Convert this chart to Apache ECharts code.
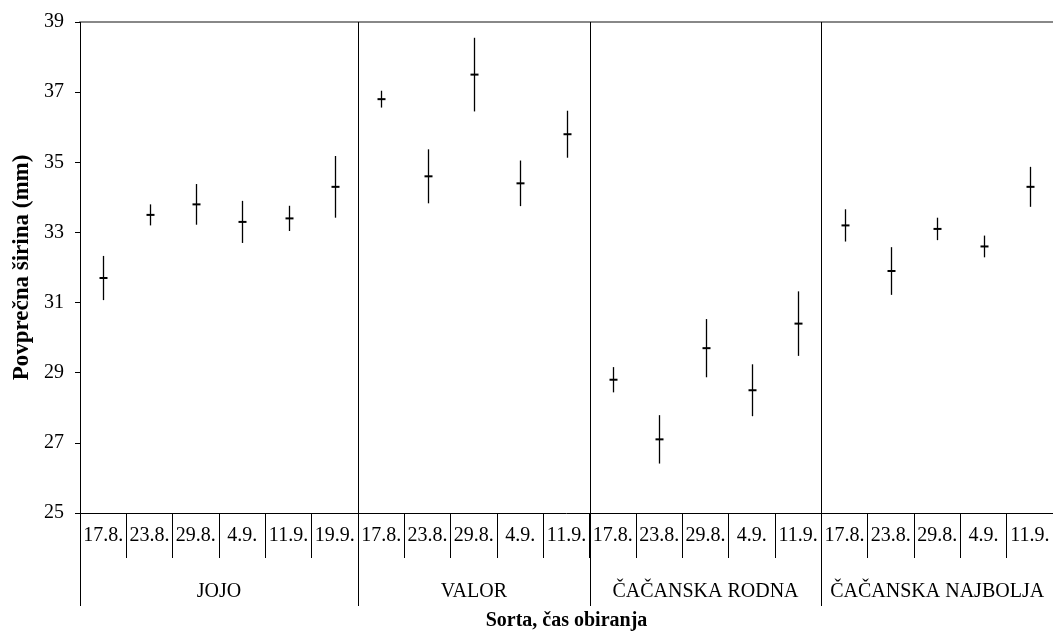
<!DOCTYPE html>
<html><head><meta charset="utf-8">
<script src="https://cdn.jsdelivr.net/npm/echarts@6/dist/echarts.min.js"></script>
<style>html,body{margin:0;padding:0;background:#fff}#c{width:1053px;height:636px}</style>
</head><body><div id="c"></div>
<script>
const dates = ['17.8.','23.8.','29.8.','4.9.','11.9.','19.9.',
               '17.8.','23.8.','29.8.','4.9.','11.9.',
               '17.8.','23.8.','29.8.','4.9.','11.9.',
               '17.8.','23.8.','29.8.','4.9.','11.9.'];
const groups = ['JOJO','VALOR','ČAČANSKA RODNA','ČAČANSKA NAJBOLJA'];
const groupSizes = [6,5,5,5];
const meanJojo = [31.7, 33.5, 33.8, 33.3, 33.4, 34.3];
const errJojo  = [0.63, 0.30, 0.58, 0.60, 0.36, 0.88];
const meanValor = [36.8, 34.6, 37.5, 34.4, 35.8];
const errValor  = [0.24, 0.77, 1.05, 0.65, 0.67];
const meanRodna = [28.8, 27.1, 29.7, 28.5, 30.4];
const errRodna  = [0.36, 0.69, 0.83, 0.74, 0.92];
const meanNajb = [33.2, 31.9, 33.1, 32.6, 34.3];
const errNajb  = [0.46, 0.68, 0.32, 0.31, 0.57];
const yTicks = {min:25, max:39, interval:2};

const means = meanJojo.concat(meanValor, meanRodna, meanNajb);
const errs = errJojo.concat(errValor, errRodna, errNajb);
const errData = means.map((m,i)=>[i, m, errs[i]]);
let acc = 0;
const groupData = groupSizes.map(n=>{const d=[acc, yTicks.min, n]; acc+=n; return d;});

const FONT = '"Liberation Serif","Times New Roman",serif';
const chart = echarts.init(document.getElementById('c'));
chart.setOption({
  animation:false,
  backgroundColor:'#fff',
  grid:{left:80, top:22, width:975.5, height:496, containLabel:false},
  xAxis:[{
    type:'category', data:dates, position:'bottom', boundaryGap:true,
    axisLine:{lineStyle:{color:'#000', width:1}},
    axisTick:{show:true, interval:0, length:45, lineStyle:{color:'#000', width:1}},
    axisLabel:{interval:0, margin:13, fontSize:20, fontFamily:FONT, color:'#000'},
    splitLine:{show:false},
    name:'Sorta, čas obiranja', nameLocation:'middle', nameGap:98,
    nameTextStyle:{fontSize:20, fontWeight:'bold', fontFamily:FONT, color:'#000'}
  },{
    type:'category', data:dates, position:'top',
    axisLine:{lineStyle:{color:'#888', width:2}},
    axisTick:{show:false}, axisLabel:{show:false}, splitLine:{show:false}
  }],
  yAxis:{
    type:'value', min:yTicks.min, max:yTicks.max, interval:yTicks.interval,
    axisLine:{show:true, lineStyle:{color:'#000', width:1}},
    axisTick:{show:true, length:5, lineStyle:{color:'#000'}},
    axisLabel:{margin:16, fontSize:20, fontFamily:FONT, color:'#000'},
    splitLine:{show:false},
    name:'Povprečna širina (mm)', nameLocation:'middle', nameGap:46,
    nameTextStyle:{fontSize:23, fontWeight:'bold', fontFamily:FONT, color:'#000'}
  },
  series:[{
    type:'custom', data:errData, encode:{x:0, y:1}, clip:false,
    renderItem:function(params, api){
      const x = api.value(0), m = api.value(1), e = api.value(2);
      const c = api.coord([x, m]), t = api.coord([x, m+e]), b = api.coord([x, m-e]);
      const cx = Math.round(c[0]) + 0.5;
      return {type:'group', children:[
        {type:'line', shape:{x1:cx, y1:t[1], x2:cx, y2:b[1]}, style:{stroke:'#000', lineWidth:1.3}},
        {type:'line', shape:{x1:cx-4, y1:c[1], x2:cx+4, y2:c[1]}, style:{stroke:'#000', lineWidth:2}}
      ]};
    }
  },{
    type:'custom', data:groupData, encode:{x:0, y:1}, clip:false, silent:true,
    renderItem:function(params, api){
      const s = api.value(0), n = api.value(2);
      const bw = api.size([1,0])[0];
      const p0 = api.coord([s, yTicks.min]);
      const pt = api.coord([s, yTicks.max]);
      const xl = Math.round(p0[0] - bw/2) + 0.5;
      const xc = p0[0] - bw/2 + n*bw/2;
      return {type:'group', children:[
        {type:'line', shape:{x1:xl, y1:pt[1], x2:xl, y2:p0[1]+93}, style:{stroke:'#000', lineWidth:1}},
        {type:'text', x:xc, y:p0[1]+79, style:{text:groups[params.dataIndex], fontSize:20, fontFamily:FONT, fill:'#000', align:'center', verticalAlign:'middle'}}
      ]};
    }
  }]
});
</script></body></html>
